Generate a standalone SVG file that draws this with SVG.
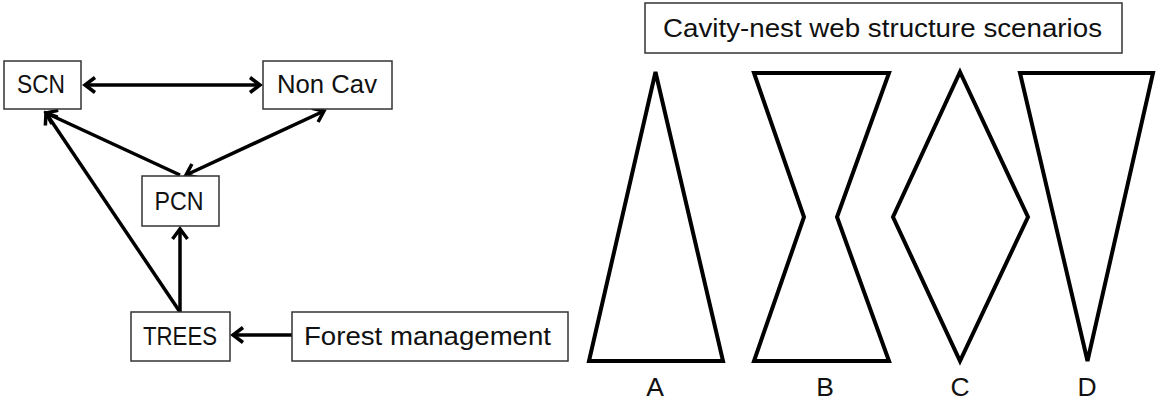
<svg xmlns="http://www.w3.org/2000/svg" width="1157" height="402" viewBox="0 0 1157 402">
  <style>
    .box { fill: #ffffff; stroke: #333333; stroke-width: 1.5; }
    .lbl { font-family: "Liberation Sans", Arial, sans-serif; font-size: 26.5px; fill: #111111; text-anchor: middle; }
    .edge { stroke: #000000; stroke-width: 3.5; fill: none; }
    .shape { fill: none; stroke: #000000; stroke-width: 4; stroke-linejoin: miter; }
  </style>
  <defs>
    <marker id="arrow" viewBox="-14 -10 18 20" refX="0" refY="0" markerWidth="18" markerHeight="20" markerUnits="userSpaceOnUse" orient="auto-start-reverse">
      <path d="M -10 -7.5 L 0 0 L -10 7.5" fill="none" stroke="#000000" stroke-width="3.5" stroke-linejoin="miter"/>
    </marker>
  </defs>
  <rect width="1157" height="402" fill="#ffffff"/>

  <!-- connectors of the nesting web -->
  <g id="connectors">
    <line class="edge" x1="85" y1="85" x2="260" y2="85" marker-start="url(#arrow)" marker-end="url(#arrow)"/>
    <line class="edge" x1="324" y1="111" x2="186" y2="175" marker-start="url(#arrow)" marker-end="url(#arrow)"/>
    <line class="edge" x1="180" y1="175" x2="46" y2="113" marker-end="url(#arrow)"/>
    <line class="edge" x1="180" y1="312" x2="46" y2="113" marker-end="url(#arrow)"/>
    <line class="edge" x1="180" y1="312" x2="180" y2="229" marker-end="url(#arrow)"/>
    <line class="edge" x1="292" y1="335" x2="233" y2="335" marker-end="url(#arrow)"/>
  </g>

  <g id="node-scn">
    <rect class="box" x="4" y="61" width="77" height="48"/>
    <text class="lbl" x="41" y="93" textLength="48" lengthAdjust="spacingAndGlyphs">SCN</text>
  </g>
  <g id="node-noncav">
    <rect class="box" x="263" y="61" width="129" height="48"/>
    <text class="lbl" x="327" y="93" textLength="100" lengthAdjust="spacingAndGlyphs">Non Cav</text>
  </g>
  <g id="node-pcn">
    <rect class="box" x="142" y="176" width="77" height="50"/>
    <text class="lbl" x="179" y="210" textLength="49" lengthAdjust="spacingAndGlyphs">PCN</text>
  </g>
  <g id="node-trees">
    <rect class="box" x="131" y="312" width="99" height="49"/>
    <text class="lbl" x="180" y="345" textLength="74" lengthAdjust="spacingAndGlyphs">TREES</text>
  </g>
  <g id="node-forest">
    <rect class="box" x="292" y="312" width="276" height="49"/>
    <text class="lbl" x="427.5" y="345" textLength="247" lengthAdjust="spacingAndGlyphs">Forest management</text>
  </g>

  <g id="node-title">
    <rect class="box" x="645" y="3" width="477" height="50"/>
    <text class="lbl" x="882.5" y="37" textLength="439" lengthAdjust="spacingAndGlyphs">Cavity-nest web structure scenarios</text>
  </g>

  <!-- scenario shapes -->
  <g id="scenario-a">
    <polygon class="shape" points="655.5,72 723,361 589,361"/>
    <text class="lbl" x="655" y="396">A</text>
  </g>
  <g id="scenario-b">
    <polygon class="shape" points="754,73 889,73 837,217 889,361 754,361 804,217"/>
    <text class="lbl" x="825" y="396">B</text>
  </g>
  <g id="scenario-c">
    <polygon class="shape" points="960,72 1028,217 960,361 893,217"/>
    <text class="lbl" x="960" y="396">C</text>
  </g>
  <g id="scenario-d">
    <polygon class="shape" points="1020,73 1153,73 1087.5,361"/>
    <text class="lbl" x="1087" y="396">D</text>
  </g>
</svg>
